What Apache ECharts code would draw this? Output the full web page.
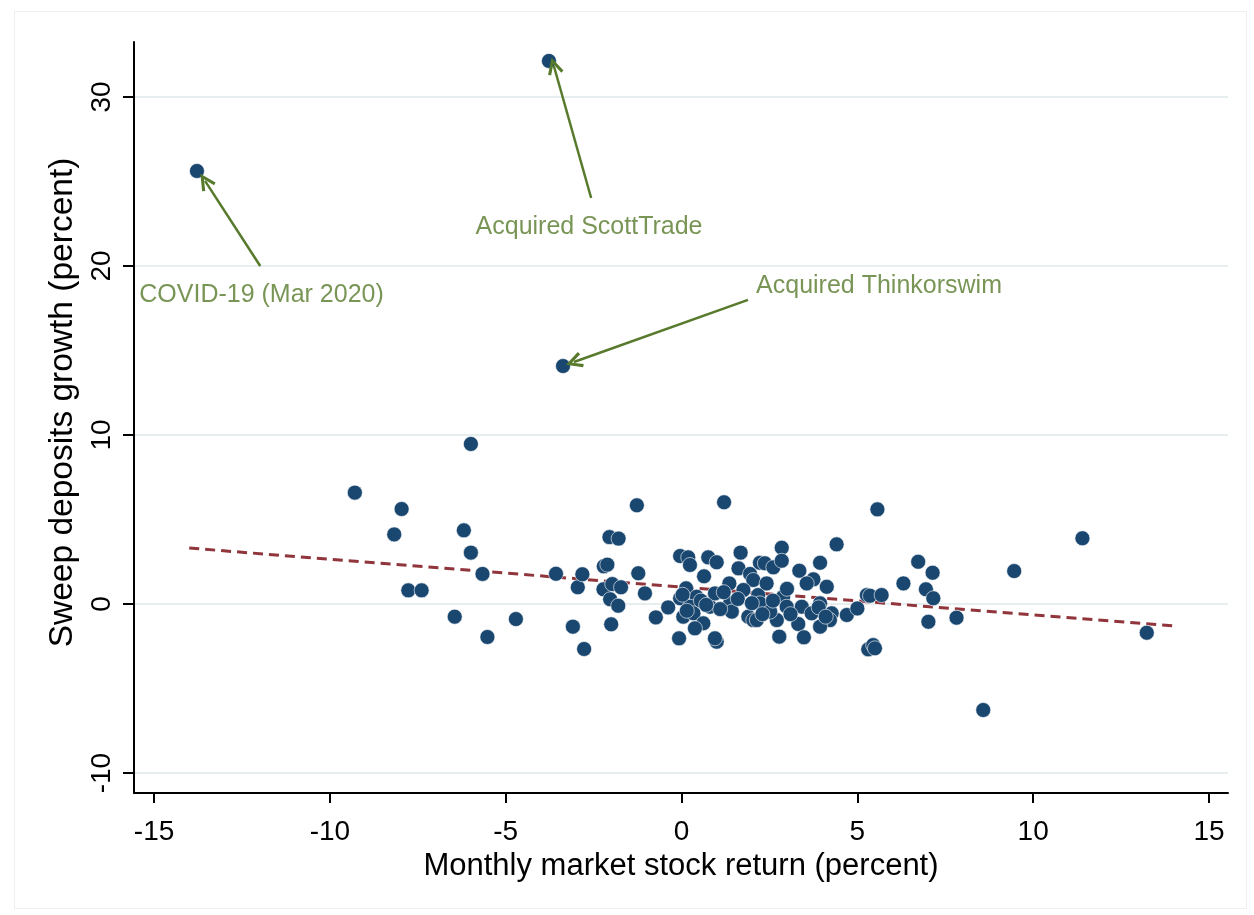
<!DOCTYPE html>
<html>
<head>
<meta charset="utf-8">
<script src="https://cdn.jsdelivr.net/npm/echarts@6/dist/echarts.min.js"></script>
<style>
html,body{margin:0;padding:0;background:#fff;}
#chart{width:1254px;height:915px;}
</style>
</head>
<body>
<div id="chart"></div>
<script>
// ---- data ----
const marketReturn = [
  -13.78, -3.77, -3.37,
  -9.29, -7.96, -8.17, -7.77, -7.39, -6.45, -6.19, -5.99, -5.99, -5.66, -5.52, -4.71,
  -3.57, -3.09, -2.95, -2.82, -2.77, -2.21, -2.11, -2.22, -2.05, -1.79, -1.97, -1.72,
  -2.03, -1.80, -2.00, -1.27, -1.23, -1.04, -0.73, -0.38, -0.07,
  -0.04, 0.19, 0.24, 0.76, 1.00, 0.64, 1.21, 1.68, 1.62, 1.36, 1.95, 2.04, 2.23,
  0.13, -0.04, 0.43, 0.24, 0.05, 0.34, 0.62, 0.38, 1.00, 0.95, 0.81, 0.95, 1.38, 1.43,
  1.76, 1.90, 2.04, 2.18, 2.85, 2.37, 2.61, 2.85, 4.41, 3.94, 3.35, 3.75, 3.56, 4.13,
  2.42, 2.23, 2.89, 2.99, 3.42, 3.70, 3.94, 4.27, 4.22, 3.94, 3.32, 2.71, 2.14, 2.52,
  2.78, 3.48, 4.70, 5.00, 5.27, 5.57, 5.36, 5.69, 5.31, 5.45, 5.50, 6.31, 6.73, 7.14,
  6.95, 7.16, 7.02, 7.82, 9.46, 11.40, 13.23, 8.58,
  0.03, 0.55, 0.15, 1.10, 1.60, 2.00, 2.60, 3.10, 0.70, 1.20, 3.00, 3.90, 4.10, 2.30
];
const depositGrowth = [
  25.62, 32.13, 14.08,
  6.59, 5.62, 4.12, 0.81, 0.81, -0.75, 4.36, 9.47, 3.04, 1.78, -1.95, -0.89,
  1.79, -1.34, 0.99, 1.76, -2.66, 2.23, 2.33, 0.87, 3.96, 3.87, 1.18, 0.99,
  0.28, -0.10, -1.20, 5.84, 1.82, 0.63, -0.79, -0.20, -2.03,
  2.84, 2.76, 2.31, 2.76, 2.47, 1.64, 6.02, 3.04, 2.11, 1.22, 1.78, 1.42, 2.44,
  0.93, 0.34, 0.43, -0.16, -0.75, -0.55, -1.14, -1.44, -2.23, -2.03, -0.16, 0.63, 0.04, -0.45,
  0.83, -0.75, -0.95, 0.53, 3.33, 2.41, 2.17, 2.56, 3.53, 2.44, 1.97, 1.46, 1.22, 1.02,
  1.22, 0.04, 0.43, -0.16, -0.16, -0.55, 0.04, -0.55, -0.95, -1.34, -1.18, -0.95, -0.95, -0.45,
  -1.93, -1.97, -0.65, -0.26, 0.53, 5.60, 0.49, 0.53, -2.68, -2.43, -2.62, 1.22, 2.50, 1.85,
  0.87, 0.34, -1.05, -0.81, 1.95, 3.89, -1.70, -6.27,
  0.55, 0.20, -0.40, -0.30, 0.30, 0.05, 0.20, -0.60, -0.05, 0.70, 0.90, -0.20, -0.75, -0.60
];
const xTickValues = [-15, -10, -5, 0, 5, 10, 15];
const yTickValues = [-10, 0, 10, 20, 30];
const fitLineX = [-14, 14];
const fitLineY = [3.31, -1.30];
const noteTexts = ['COVID-19 (Mar 2020)', 'Acquired ScottTrade', 'Acquired Thinkorswim'];
const noteX = [-15.42, -2.63, 2.12];
const noteY = [18.28, 22.31, 18.82];
const noteAlign = ['left', 'center', 'left'];
const arrowFromX = [-11.98, -2.57, 1.89];
const arrowFromY = [20.0, 24.02, 17.99];
const arrowToX = [-13.55, -3.63, -3.06];
const arrowToY = [25.03, 31.83, 14.32];

// ---- chart ----
const FONT = '"Liberation Sans", Arial, sans-serif';
const NAVY = '#1a476f';
const OLIVE = '#577a2c';
const chevron = 'path://M0,10 L5,0 L10,10 L8.3,11 L5,4.2 L1.7,11 Z';

const points = marketReturn.map((x, i) => [x, depositGrowth[i]]);
const fitData = fitLineX.map((x, i) => [x, fitLineY[i]]);
const notes = noteTexts.map((t, i) => ({
  value: [noteX[i], noteY[i]],
  name: t,
  label: { align: noteAlign[i] }
}));
const arrows = noteTexts.map((t, i) => [
  { coord: [arrowFromX[i], arrowFromY[i]], symbol: 'none' },
  { coord: [arrowToX[i], arrowToY[i]], symbol: chevron, symbolSize: [16, 17] }
]);

const chart = echarts.init(document.getElementById('chart'), null, { renderer: 'canvas' });
chart.setOption({
  backgroundColor: '#ffffff',
  animation: false,
  textStyle: { fontFamily: FONT },
  graphic: [{
    type: 'rect', left: 12, top: 9, shape: { width: 1232, height: 897 },
    style: { fill: 'none', stroke: '#efefef', lineWidth: 1 }, silent: true, z: -1
  }],
  grid: { left: 134, right: 26, top: 42, bottom: 122, containLabel: false },
  xAxis: {
    type: 'value', min: -15.57, max: 15.54,
    name: 'Monthly market stock return (percent)',
    nameLocation: 'middle', nameGap: 58,
    nameTextStyle: { fontSize: 31, color: '#000', fontFamily: FONT },
    axisLine: { show: true, onZero: false, lineStyle: { color: '#000', width: 2 } },
    axisTick: { show: true, length: 10, lineStyle: { color: '#000', width: 2 }, customValues: xTickValues },
    axisLabel: { fontSize: 28, color: '#000', margin: 25, fontFamily: FONT, customValues: xTickValues },
    splitLine: { show: false }
  },
  yAxis: {
    type: 'value', min: -11.18, max: 33.25,
    name: 'Sweep deposits growth (percent)',
    nameLocation: 'middle', nameGap: 41, nameRotate: 90,
    nameTextStyle: { fontSize: 33.5, color: '#000', fontFamily: FONT, padding: [0, 0, 0, 30] },
    axisLine: { show: true, onZero: false, lineStyle: { color: '#000', width: 2 } },
    axisTick: { show: true, length: 11, lineStyle: { color: '#000', width: 2 }, customValues: yTickValues },
    axisLabel: { fontSize: 28, color: '#000', margin: 18, rotate: 90, fontFamily: FONT, customValues: yTickValues },
    splitLine: { show: true, lineStyle: { color: '#e6eef0', width: 2 } }
  },
  series: [
    {
      type: 'line', data: fitData, symbol: 'none', z: 2,
      lineStyle: { color: '#90353b', width: 3, type: [10, 6] },
      silent: true
    },
    {
      type: 'scatter', data: points, symbol: 'circle', symbolSize: 15, z: 3,
      itemStyle: { color: NAVY, borderColor: '#ffffff', borderWidth: 0.6, opacity: 1 }
    },
    {
      type: 'scatter', data: notes, symbolSize: 0, z: 4,
      label: {
        show: true, position: 'inside', formatter: '{b}',
        color: OLIVE, fontSize: 25, fontFamily: FONT, verticalAlign: 'middle'
      },
      markLine: {
        silent: true, animation: false,
        label: { show: false },
        lineStyle: { color: OLIVE, width: 2.5, type: 'solid' },
        data: arrows
      }
    }
  ]
});
</script>
</body>
</html>
